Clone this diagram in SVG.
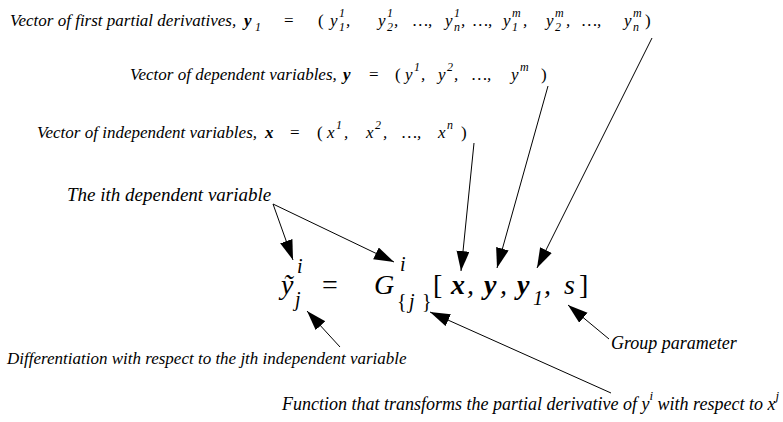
<svg xmlns="http://www.w3.org/2000/svg" width="783" height="422" viewBox="0 0 783 422">
<style>
text { font-family: "Liberation Serif", "Times New Roman", serif; font-style: italic; fill: #000; }
.l { font-size: 17px; }
.s { font-size: 12px; }
.b { font-weight: bold; }
.u { font-style: normal; }
.e { font-size: 28px; }
.es { font-size: 20px; }
.big { font-size: 19px; }
.mid { font-size: 18px; }
.bs { font-size: 13px; }
#connectors line { stroke: #000; stroke-width: 1; fill: none; marker-end: url(#ah); }
</style>
<defs>
<marker id="ah" markerUnits="userSpaceOnUse" markerWidth="22" markerHeight="14" refX="20" refY="6.5" orient="auto">
<path d="M0,0 L20,6.5 L0,13 z" fill="#000"/>
</marker>
</defs>
<rect width="783" height="422" fill="#fff"/>

<g id="line1">
<text class="l" x="10" y="26">Vector of first partial derivatives,</text>
<text class="l b" x="244" y="26">y</text><text class="s" x="255" y="31">1</text>
<text class="l u" x="284" y="26">=</text>
<text class="l u" x="318" y="26">(</text>
<text class="l" x="330" y="26">y</text><text class="s" x="339" y="17">1</text><text class="s" x="339" y="31">1</text><text class="l" x="346" y="26">,</text>
<text class="l" x="378" y="26">y</text><text class="s" x="387" y="17">1</text><text class="s" x="387" y="31">2</text><text class="l" x="394" y="26">,</text>
<text class="l" x="413" y="26">…,</text>
<text class="l" x="445" y="26">y</text><text class="s" x="454" y="17">1</text><text class="s" x="454" y="31">n</text><text class="l" x="461" y="26">,</text>
<text class="l" x="473" y="26">…,</text>
<text class="l" x="503" y="26">y</text><text class="s" x="512" y="17">m</text><text class="s" x="512" y="31">1</text><text class="l" x="523" y="26">,</text>
<text class="l" x="546" y="26">y</text><text class="s" x="555" y="17">m</text><text class="s" x="555" y="31">2</text><text class="l" x="566" y="26">,</text>
<text class="l" x="582" y="26">…,</text>
<text class="l" x="624" y="26">y</text><text class="s" x="633" y="17">m</text><text class="s" x="633" y="31">n</text>
<text class="l u" x="645" y="26">)</text>
</g>

<g id="line2">
<text class="l" x="130" y="80">Vector of dependent variables,</text>
<text class="l b" x="343" y="80">y</text>
<text class="l u" x="369" y="80">=</text>
<text class="l u" x="395" y="80">(</text>
<text class="l" x="405" y="80">y</text><text class="s" x="414" y="71">1</text><text class="l" x="421" y="80">,</text>
<text class="l" x="438" y="80">y</text><text class="s" x="447" y="71">2</text><text class="l" x="454" y="80">,</text>
<text class="l" x="472" y="80">…,</text>
<text class="l" x="511" y="80">y</text><text class="s" x="520" y="71">m</text>
<text class="l u" x="541" y="80">)</text>
</g>

<g id="line3">
<text class="l" x="37" y="138">Vector of independent variables,</text>
<text class="l b" x="265" y="138">x</text>
<text class="l u" x="290" y="138">=</text>
<text class="l u" x="317" y="138">(</text>
<text class="l" x="327" y="138">x</text><text class="s" x="336" y="129">1</text><text class="l" x="344" y="138">,</text>
<text class="l" x="366" y="138">x</text><text class="s" x="375" y="129">2</text><text class="l" x="383" y="138">,</text>
<text class="l" x="402" y="138">…,</text>
<text class="l" x="438" y="138">x</text><text class="s" x="447" y="129">n</text>
<text class="l u" x="461" y="138">)</text>
</g>

<g id="ith-label">
<text class="big" x="67" y="201">The ith dependent variable</text>
</g>

<g id="equation">
<text class="e" x="281" y="294">ỹ</text>
<text class="es" x="297" y="273">i</text>
<text class="es" x="295" y="306">j</text>
<text class="e u" x="322" y="294">=</text>
<text class="e" x="374" y="294">G</text>
<text class="es" x="400" y="271">i</text>
<text class="es u" x="397" y="308">{</text><text class="es" x="409" y="308">j</text><text class="es u" x="422" y="308">}</text>
<text class="e u" x="433" y="294">[</text>
<text class="e b" x="451" y="294">x</text><text class="e" x="467" y="294">,</text>
<text class="e b" x="484" y="294">y</text><text class="e" x="500" y="294">,</text>
<text class="e b" x="517" y="294">y</text><text class="es" x="533" y="305">1</text><text class="e" x="544" y="294">,</text>
<text class="e" x="564" y="294">s</text>
<text class="e u" x="579" y="294">]</text>
</g>

<g id="diff-label">
<text class="l" x="7" y="364">Differentiation with respect to the jth independent variable</text>
</g>

<g id="group-label">
<text class="mid" x="611" y="349">Group parameter</text>
</g>

<g id="function-label">
<text class="mid" x="779" y="410" text-anchor="end">Function that transforms the partial derivative of y<tspan class="bs" dy="-10">i</tspan><tspan dy="10"> with respect to x</tspan><tspan class="bs" dy="-10">j</tspan></text>
</g>

<g id="connectors">
<line x1="273" y1="204" x2="293" y2="260"/>
<line x1="273" y1="204" x2="394" y2="262"/>
<line x1="340" y1="347" x2="307" y2="311"/>
<line x1="474" y1="143" x2="461" y2="271"/>
<line x1="548" y1="86" x2="497" y2="268"/>
<line x1="652" y1="38" x2="537" y2="268"/>
<line x1="609" y1="339" x2="568" y2="305"/>
<line x1="611" y1="393" x2="430" y2="312"/>
</g>
</svg>
